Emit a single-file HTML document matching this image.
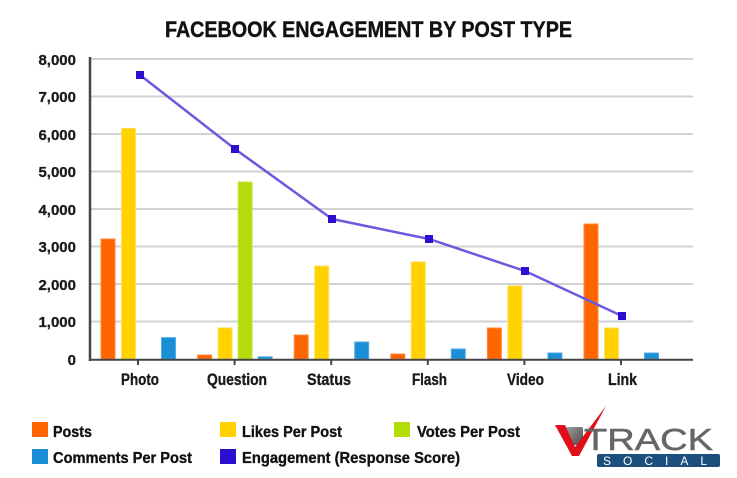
<!DOCTYPE html>
<html><head><meta charset="utf-8"><style>
html,body{margin:0;padding:0;background:#fff;}
svg{display:block;}
text{font-family:"Liberation Sans",Arial,sans-serif;}
</style></head><body>
<svg width="737" height="478" viewBox="0 0 737 478" xmlns="http://www.w3.org/2000/svg">
<rect width="737" height="478" fill="#fff"/>
<!-- title -->
<text x="165" y="37" font-size="22" font-weight="bold" fill="#111" stroke="#111" stroke-width="0.4" textLength="407" lengthAdjust="spacingAndGlyphs">FACEBOOK ENGAGEMENT BY POST TYPE</text>
<!-- gridlines -->
<g stroke="#d2d2d2" stroke-width="2">
<line x1="90" y1="59" x2="693" y2="59"/>
<line x1="90" y1="96.5" x2="693" y2="96.5"/>
<line x1="90" y1="134" x2="693" y2="134"/>
<line x1="90" y1="171.5" x2="693" y2="171.5"/>
<line x1="90" y1="209" x2="693" y2="209"/>
<line x1="90" y1="246.5" x2="693" y2="246.5"/>
<line x1="90" y1="284" x2="693" y2="284"/>
<line x1="90" y1="321.5" x2="693" y2="321.5"/>
</g>
<!-- y labels -->
<g font-size="15" font-weight="bold" fill="#1a1a1a" stroke="#1a1a1a" stroke-width="0.3" text-anchor="end">
<text x="76" y="65">8,000</text>
<text x="76" y="102">7,000</text>
<text x="76" y="140">6,000</text>
<text x="76" y="177">5,000</text>
<text x="76" y="215">4,000</text>
<text x="76" y="252">3,000</text>
<text x="76" y="290">2,000</text>
<text x="76" y="327">1,000</text>
<text x="76" y="365">0</text>
</g>
<!-- bars -->
<g stroke-width="1">
<rect x="101" y="239" width="14" height="120" fill="#ff6600" stroke="#ff8a40"/>
<rect x="121.5" y="128.4" width="14" height="230.6" fill="#ffd200" stroke="#ffe060"/>
<rect x="161.5" y="337.6" width="14" height="21.4" fill="#1a8ed6" stroke="#50aee6"/>
<rect x="197.6" y="355" width="14" height="4" fill="#ff6600" stroke="#ff8a40"/>
<rect x="218.1" y="327.9" width="14" height="31.1" fill="#ffd200" stroke="#ffe060"/>
<rect x="238.1" y="182" width="14" height="177" fill="#b2dc0a" stroke="#c6e84a"/>
<rect x="258.1" y="356.8" width="14" height="2.2" fill="#1a8ed6" stroke="#50aee6"/>
<rect x="294.2" y="335" width="14" height="24" fill="#ff6600" stroke="#ff8a40"/>
<rect x="314.7" y="266" width="14" height="93" fill="#ffd200" stroke="#ffe060"/>
<rect x="354.7" y="342" width="14" height="17" fill="#1a8ed6" stroke="#50aee6"/>
<rect x="390.8" y="354" width="14" height="5" fill="#ff6600" stroke="#ff8a40"/>
<rect x="411.3" y="261.9" width="14" height="97.1" fill="#ffd200" stroke="#ffe060"/>
<rect x="451.3" y="349" width="14" height="10" fill="#1a8ed6" stroke="#50aee6"/>
<rect x="487.4" y="328" width="14" height="31" fill="#ff6600" stroke="#ff8a40"/>
<rect x="507.9" y="285.9" width="14" height="73.1" fill="#ffd200" stroke="#ffe060"/>
<rect x="547.9" y="353" width="14" height="6" fill="#1a8ed6" stroke="#50aee6"/>
<rect x="584" y="224" width="14" height="135" fill="#ff6600" stroke="#ff8a40"/>
<rect x="604.5" y="328" width="14" height="31" fill="#ffd200" stroke="#ffe060"/>
<rect x="644.5" y="353" width="14" height="6" fill="#1a8ed6" stroke="#50aee6"/>
</g>
<!-- axes -->
<line x1="90" y1="57" x2="90" y2="361" stroke="#444" stroke-width="2.5"/>
<line x1="89" y1="359.8" x2="693" y2="359.8" stroke="#444" stroke-width="2"/>
<g stroke="#444" stroke-width="2">
<line x1="138" y1="360" x2="138" y2="365"/>
<line x1="234.6" y1="360" x2="234.6" y2="365"/>
<line x1="331.2" y1="360" x2="331.2" y2="365"/>
<line x1="427.8" y1="360" x2="427.8" y2="365"/>
<line x1="524.4" y1="360" x2="524.4" y2="365"/>
<line x1="621" y1="360" x2="621" y2="365"/>
</g>
<!-- line series -->
<polyline points="140,75 235,149 332,219 429,239 525,271 622,316" fill="none" stroke="#6a5ae0" stroke-width="2.5"/>
<g fill="#2a0fd0">
<rect x="136" y="71" width="8" height="8"/>
<rect x="231" y="145" width="8" height="8"/>
<rect x="328" y="215" width="8" height="8"/>
<rect x="425" y="235" width="8" height="8"/>
<rect x="521" y="267" width="8" height="8"/>
<rect x="618" y="312" width="8" height="8"/>
</g>
<!-- category labels -->
<g font-size="17" font-weight="bold" fill="#1a1a1a" stroke="#1a1a1a" stroke-width="0.35">
<text x="121" y="385" textLength="38" lengthAdjust="spacingAndGlyphs">Photo</text>
<text x="207" y="385" textLength="60" lengthAdjust="spacingAndGlyphs">Question</text>
<text x="307" y="385" textLength="44" lengthAdjust="spacingAndGlyphs">Status</text>
<text x="412" y="385" textLength="35" lengthAdjust="spacingAndGlyphs">Flash</text>
<text x="507" y="385" textLength="37" lengthAdjust="spacingAndGlyphs">Video</text>
<text x="608" y="385" textLength="29" lengthAdjust="spacingAndGlyphs">Link</text>
</g>
<!-- legend -->
<rect x="32" y="422" width="16" height="15" fill="#ff6600"/>
<rect x="220" y="422" width="16" height="15" fill="#ffd200"/>
<rect x="394" y="422" width="16" height="15" fill="#b2dc0a"/>
<rect x="32" y="449" width="16" height="15" fill="#1a8ed6"/>
<rect x="220" y="449" width="16" height="15" fill="#2a0fd0"/>
<g font-size="16" font-weight="bold" fill="#111" stroke="#111" stroke-width="0.35">
<text x="53" y="437" textLength="39" lengthAdjust="spacingAndGlyphs">Posts</text>
<text x="242" y="437" textLength="100" lengthAdjust="spacingAndGlyphs">Likes Per Post</text>
<text x="417" y="437" textLength="103" lengthAdjust="spacingAndGlyphs">Votes Per Post</text>
<text x="53" y="463" textLength="139" lengthAdjust="spacingAndGlyphs">Comments Per Post</text>
<text x="242" y="463" textLength="218" lengthAdjust="spacingAndGlyphs">Engagement (Response Score)</text>
</g>
<!-- logo -->
<defs>
<linearGradient id="gs" x1="0" y1="0" x2="1" y2="1">
<stop offset="0" stop-color="#a0a0a0"/><stop offset="1" stop-color="#4a4a4a"/>
</linearGradient>
</defs>
<rect x="566" y="427" width="17" height="18" rx="2" fill="url(#gs)"/>
<polygon points="555,425 565,425 575,447 606,406 579,456 572,456" fill="#e0101a"/>
<text x="584" y="450" font-size="31" fill="#666" stroke="#666" stroke-width="0.5" textLength="129" lengthAdjust="spacingAndGlyphs">TRACK</text>
<rect x="597" y="454" width="123" height="13" rx="2" fill="#1d4f7c"/>
<text x="603" y="465" font-size="12" fill="#fff" textLength="104" lengthAdjust="spacing">SOCIAL</text>
</svg>
</body></html>
